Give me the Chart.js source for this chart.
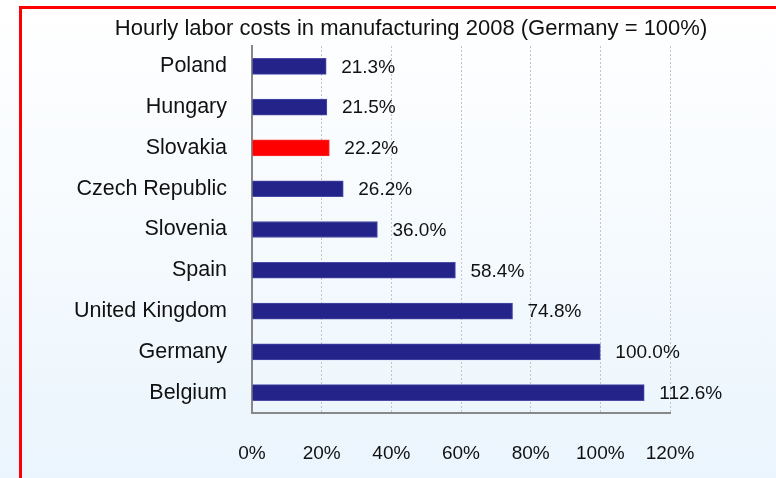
<!DOCTYPE html>
<html>
<head>
<meta charset="utf-8">
<script src="https://cdn.jsdelivr.net/npm/chart.js@4/dist/chart.umd.min.js"></script>
<style>
  html, body { margin: 0; padding: 0; overflow: hidden; }
  body {
    width: 776px; height: 478px; position: relative;
    background: linear-gradient(#ffffff, #ebf5fd);
  }
  #frame {
    position: absolute; left: 19px; top: 6px;
    width: 800px; height: 520px;
    border: 3px solid #ff0000;
  }
  #wrap { position: absolute; left: 0; top: 0; width: 776px; height: 478px; }
</style>
</head>
<body>
<div id="frame"></div>
<div id="wrap"><canvas id="chart" width="776" height="478"></canvas></div>
<script>
const countries = ["Poland", "Hungary", "Slovakia", "Czech Republic", "Slovenia",
                   "Spain", "United Kingdom", "Germany", "Belgium"];
const laborCost = [21.3, 21.5, 22.2, 26.2, 36.0, 58.4, 74.8, 100.0, 112.6];
const xTicks = [0, 20, 40, 60, 80, 100, 120];
const titleText = "Hourly labor costs in manufacturing 2008 (Germany = 100%)";

const FONT = "'Liberation Sans', Arial, sans-serif";
const navy = "#23238a";
const highlight = "Slovakia";

const barColors = countries.map(c => c === highlight ? "#ff0000" : navy);
const barBorders = countries.map(c => c === highlight ? "#ff2a2a" : "#4b4ba6");

// title sits a bit right of the plot centre, so it is drawn here
const topTitle = {
  id: "topTitle",
  afterDraw(chart) {
    const ctx = chart.ctx;
    ctx.save();
    ctx.font = "22px " + FONT;
    ctx.fillStyle = "#111";
    ctx.textAlign = "center";
    ctx.textBaseline = "middle";
    ctx.fillText(titleText, 411, 29);
    ctx.restore();
  }
};

// percentage text to the right of each bar
const valueLabels = {
  id: "valueLabels",
  afterDatasetsDraw(chart) {
    const ctx = chart.ctx;
    const meta = chart.getDatasetMeta(0);
    ctx.save();
    ctx.font = "19px " + FONT;
    ctx.fillStyle = "#111";
    ctx.textAlign = "left";
    ctx.textBaseline = "middle";
    meta.data.forEach((bar, i) => {
      ctx.fillText(laborCost[i].toFixed(1) + "%", bar.x + 15, bar.y + 1);
    });
    ctx.restore();
  }
};

new Chart(document.getElementById("chart"), {
  type: "bar",
  data: {
    labels: countries,
    datasets: [{
      data: laborCost,
      backgroundColor: barColors,
      borderColor: barBorders,
      borderWidth: 1,
      barThickness: 16
    }]
  },
  options: {
    indexAxis: "y",
    responsive: false,
    animation: false,
    layout: { padding: { left: 0, right: 106, top: 46, bottom: 0 } },
    plugins: {
      legend: { display: false },
      tooltip: { enabled: false },
      title: { display: false }
    },
    scales: {
      x: {
        min: 0,
        max: 120,
        afterBuildTicks: axis => { axis.ticks = xTicks.map(v => ({ value: v })); },
        ticks: {
          color: "#111",
          font: { family: FONT, size: 19 },
          padding: 29,
          callback: v => v + "%"
        },
        grid: {
          color: "#c4c4c4",
          lineWidth: 1,
          drawTicks: false
        },
        border: { display: true, color: "#888", width: 2, dash: [2, 2] },
        afterFit: axis => { axis.height = 65; }
      },
      y: {
        ticks: {
          color: "#111",
          font: { family: FONT, size: 21.5 },
          padding: 25
        },
        grid: { display: false, drawTicks: false },
        border: { display: true, color: "#888", width: 2 },
        afterFit: axis => { axis.width = 252; }
      }
    }
  },
  plugins: [valueLabels, topTitle]
});
</script>
</body>
</html>
